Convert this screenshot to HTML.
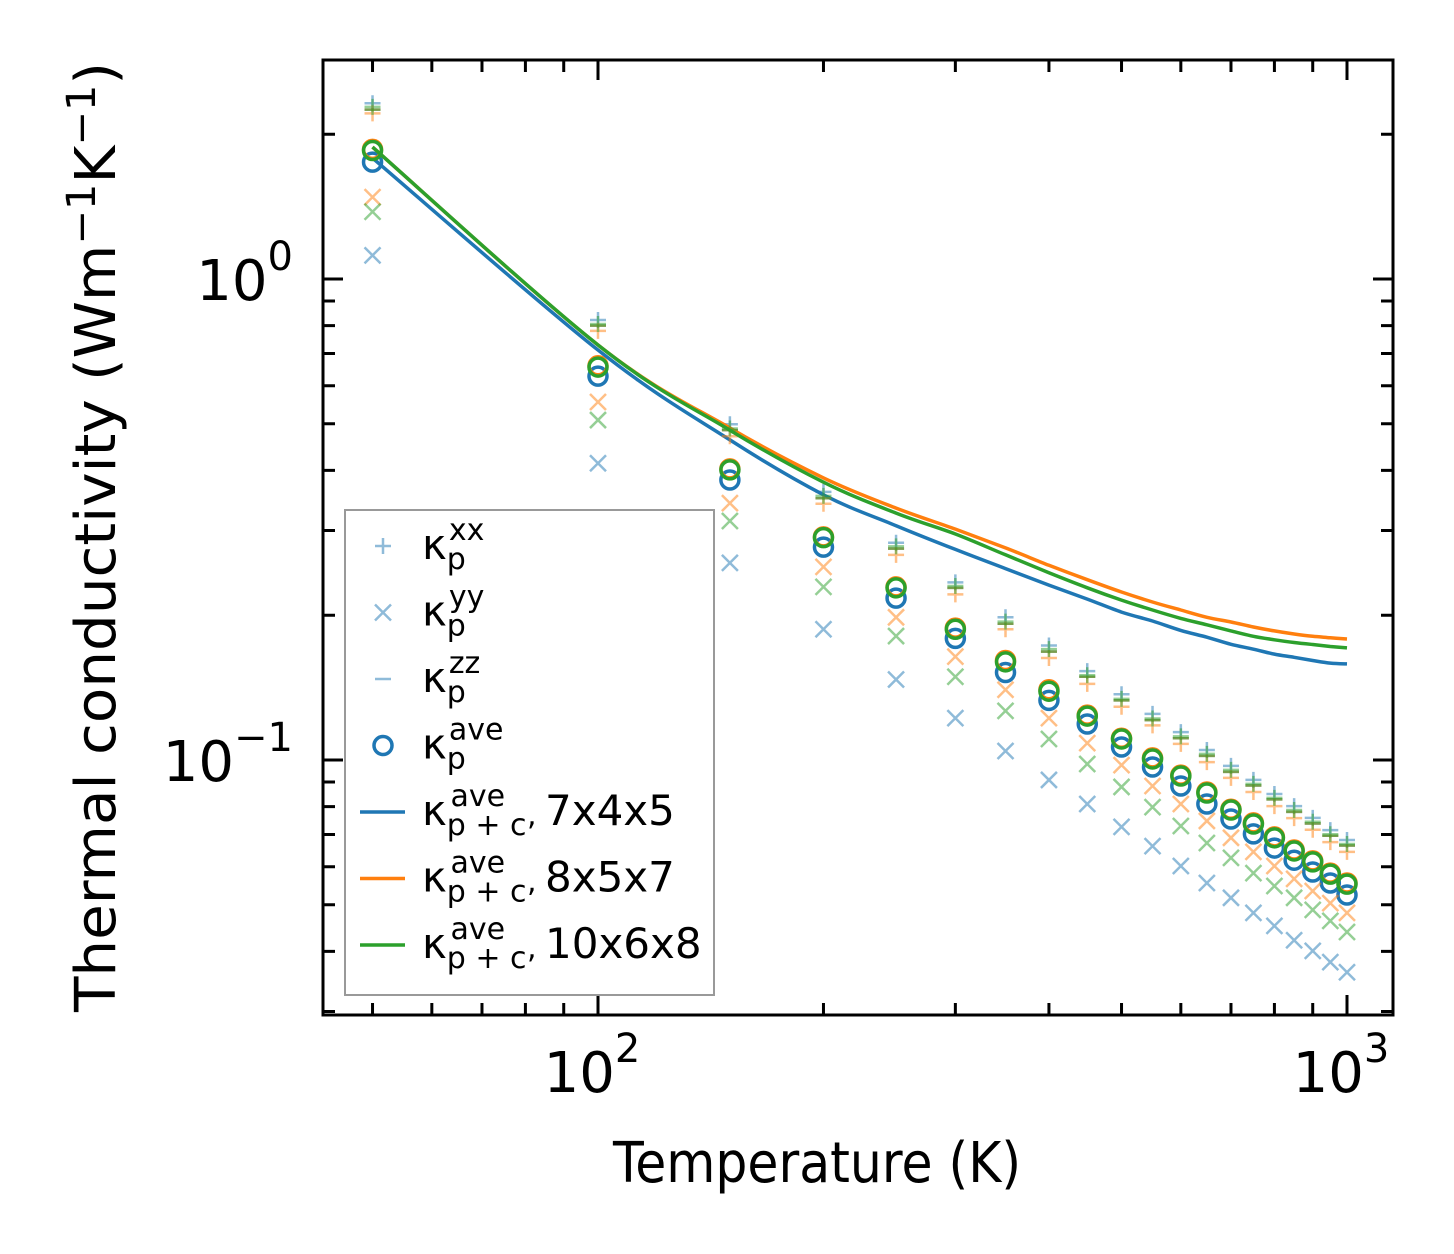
<!DOCTYPE html>
<html><head><meta charset="utf-8"><style>
html,body{margin:0;padding:0;background:#fff}
svg{display:block;font-family:"DejaVu Sans","Liberation Sans",sans-serif}
</style></head><body>
<svg id="chart" width="1454" height="1254" viewBox="0 0 1454 1254" xmlns="http://www.w3.org/2000/svg">
<rect width="1454" height="1254" fill="#fff"/>
<g id="marks"></g>
<g id="axes"></g>
<text x="817" y="1182" font-size="56" text-anchor="middle" textLength="408" lengthAdjust="spacingAndGlyphs">Temperature (K)</text>
<text transform="translate(115,537) rotate(-90)" font-size="56" text-anchor="middle" textLength="950" lengthAdjust="spacingAndGlyphs">Thermal conductivity (Wm<tspan dy="-20" font-size="40">−1</tspan><tspan dy="20">K</tspan><tspan dy="-20" font-size="40">−1</tspan><tspan dy="20">)</tspan></text>
<g id="legend"></g>
</svg>
<script>
const temps=[50,100,150,200,250,300,350,400,450,500,550,600,650,700,750,800,850,900,950,1000];
const xxBlue=[2.32,0.822,0.499,0.361,0.283,0.234,0.198,0.173,0.153,0.137,0.1247,0.1143,0.1049,0.0972,0.0909,0.085,0.0802,0.0758,0.0715,0.0682];
const xxOrange=[2.21,0.78,0.471,0.341,0.267,0.221,0.187,0.163,0.144,0.129,0.118,0.108,0.099,0.0918,0.0858,0.0802,0.0757,0.0716,0.0675,0.0644];
const xxGreen=[2.28,0.806,0.489,0.354,0.278,0.23,0.194,0.17,0.15,0.134,0.122,0.112,0.103,0.0954,0.0892,0.0834,0.0787,0.0744,0.0701,0.0669];
const zzValues=[2.25,0.8,0.485,0.35,0.275,0.228,0.192,0.168,0.149,0.133,0.121,0.111,0.102,0.0945,0.0885,0.0828,0.078,0.0738,0.0696,0.0664];
const yyBlue=[1.12,0.414,0.257,0.187,0.147,0.1222,0.1044,0.0909,0.081,0.0726,0.0662,0.0602,0.0555,0.0517,0.0481,0.0452,0.0422,0.0401,0.038,0.0362];
const yyOrange=[1.48,0.555,0.342,0.252,0.198,0.164,0.14,0.1222,0.1084,0.0976,0.0883,0.081,0.0747,0.0689,0.0644,0.0602,0.0566,0.0534,0.0504,0.0481];
const yyGreen=[1.38,0.509,0.314,0.229,0.181,0.149,0.1265,0.1106,0.0981,0.0879,0.0798,0.0729,0.0672,0.0626,0.0582,0.0547,0.0517,0.0488,0.0463,0.0439];
const aveBlue=[1.75,0.628,0.382,0.277,0.217,0.179,0.152,0.133,0.1188,0.1064,0.0967,0.0883,0.081,0.0754,0.0702,0.0656,0.0619,0.0585,0.0555,0.0524];
const aveOrange=[1.86,0.66,0.403,0.291,0.229,0.188,0.161,0.14,0.124,0.111,0.101,0.093,0.0858,0.079,0.074,0.0692,0.065,0.0617,0.0582,0.0555];
const aveGreen=[1.85,0.656,0.401,0.29,0.228,0.187,0.16,0.139,0.1234,0.1106,0.1005,0.0926,0.0854,0.0787,0.0736,0.0689,0.0647,0.0614,0.0579,0.0552];
const lineBlue=[1.785,0.712,0.463,0.356,0.307,0.274,0.25,0.231,0.216,0.203,0.1945,0.186,0.18,0.174,0.17,0.166,0.1635,0.161,0.159,0.1584];
const lineOrange=[1.88,0.729,0.49,0.386,0.334,0.302,0.276,0.254,0.237,0.2235,0.213,0.205,0.198,0.1936,0.189,0.1855,0.1828,0.1808,0.1795,0.1785];
const lineGreen=[1.88,0.729,0.485,0.378,0.326,0.295,0.267,0.245,0.228,0.215,0.205,0.197,0.191,0.1855,0.1808,0.1778,0.1755,0.1738,0.1722,0.171];
const xMajor=[100,1000];
const xMajorLabels=["2","3"];
const yMajor=[0.1,1];
const yMajorLabels=["−1","0"];

const NS="http://www.w3.org/2000/svg";
const X0=323,X1=1393,Y0=60,Y1=1015;
function xs(t){return 598+749*Math.log10(t/100);}
function ys(v){return 279-481*Math.log10(v);}
function mk(tag,attrs,parent){const e=document.createElementNS(NS,tag);for(const k in attrs)e.setAttribute(k,attrs[k]);parent.appendChild(e);return e;}
const marks=document.getElementById('marks');
const axes=document.getElementById('axes');
const C={blue:'#1f77b4',orange:'#ff7f0e',green:'#2ca02c'};

function plus(cx,cy,col,g){return mk('path',{d:`M${cx-8},${cy}H${cx+8}M${cx},${cy-8}V${cy+8}`,stroke:col,'stroke-width':2.5,'stroke-opacity':0.5,fill:'none'},g);}
function cross(cx,cy,col,g){return mk('path',{d:`M${cx-8},${cy-8}L${cx+8},${cy+8}M${cx-8},${cy+8}L${cx+8},${cy-8}`,stroke:col,'stroke-width':2.5,'stroke-opacity':0.5,fill:'none'},g);}
function dash(cx,cy,col,g){return mk('path',{d:`M${cx-8},${cy}H${cx+8}`,stroke:col,'stroke-width':2.5,'stroke-opacity':0.5,fill:'none'},g);}
function circ(cx,cy,col,g){return mk('circle',{cx:cx,cy:cy,r:9,stroke:col,'stroke-width':3.5,fill:'none'},g);}
function smoothPath(P){let d=`M${P[0][0].toFixed(1)},${P[0][1].toFixed(1)}`;
  for(let i=0;i<P.length-1;i++){const p0=P[Math.max(0,i-1)],p1=P[i],p2=P[i+1],p3=P[Math.min(P.length-1,i+2)];
    const c1=[p1[0]+(p2[0]-p0[0])/6,p1[1]+(p2[1]-p0[1])/6],c2=[p2[0]-(p3[0]-p1[0])/6,p2[1]-(p3[1]-p1[1])/6];
    d+=`C${c1[0].toFixed(1)},${c1[1].toFixed(1)} ${c2[0].toFixed(1)},${c2[1].toFixed(1)} ${p2[0].toFixed(1)},${p2[1].toFixed(1)}`;}
  return d;}

const sets=[
 {name:'blue',col:C.blue,xx:xxBlue,yy:yyBlue,zz:zzValues,ave:aveBlue,line:lineBlue},
 {name:'orange',col:C.orange,xx:xxOrange,yy:yyOrange,zz:zzValues,ave:aveOrange,line:lineOrange},
 {name:'green',col:C.green,xx:xxGreen,yy:yyGreen,zz:zzValues,ave:aveGreen,line:lineGreen}
];
sets.forEach(s=>{
  const g=mk('g',{},marks);
  
  
  temps.forEach((t,i)=>{
    const e1=plus(xs(t),ys(s.xx[i]),s.col,g);
    
    
    const e2=cross(xs(t),ys(s.yy[i]),s.col,g);
    
    
    const e3=dash(xs(t),ys(s.zz[i]),s.col,g);
    
    
    const e4=circ(xs(t),ys(s.ave[i]),s.col,g);
    
    
  });
  const P=temps.map((t,i)=>[xs(t),ys(s.line[i])]);
  const pl=mk('path',{d:smoothPath(P),fill:'none',stroke:s.col,'stroke-width':3.5,'stroke-linejoin':'round'},g);
  
  
});

const fr=mk('rect',{x:X0,y:Y0,width:X1-X0,height:Y1-Y0,fill:'none',stroke:'#000','stroke-width':3},axes);


for(let d=10;d<=1000;d*=10){for(let m=1;m<10;m++){const t=d*m;const x=xs(t);if(x<X0||x>X1)continue;const major=(m===1);const L=major?20:12;
  const tk=mk('path',{d:`M${x},${Y1}v${-L}M${x},${Y0}v${L}`,stroke:'#000','stroke-width':3},axes);
  
  }}
for(let d=0.01;d<=10;d*=10){for(let m=1;m<10;m++){const v=d*m;const y=ys(v);if(y<Y0||y>Y1)continue;const major=(m===1);const L=major?20:12;
  const tk=mk('path',{d:`M${X0},${y}h${L}M${X1},${y}h${-L}`,stroke:'#000','stroke-width':3},axes);
  
  }}
xMajor.forEach((t,i)=>{const tx=mk('text',{x:xs(t)-6,y:1092,'font-size':56,'text-anchor':'middle'},axes);
  
  
  tx.innerHTML='10<tspan dy="-30" font-size="40">'+xMajorLabels[i]+'</tspan>';});
yMajor.forEach((v,i)=>{const tx=mk('text',{x:293,y:ys(v)+21,'font-size':56,'text-anchor':'end'},axes);
  
  
  tx.innerHTML='10<tspan dy="-30" font-size="40">'+yMajorLabels[i]+'</tspan>';});

const lg=document.getElementById('legend');
const lb=mk('rect',{x:345,y:510,width:369,height:485,fill:'#fff','fill-opacity':0.8,stroke:'#999','stroke-width':2},lg);


const entries=[['xx','','plus'],['yy','','cross'],['zz','','dash'],['ave','','circ'],['ave',', 7x4x5','line',C.blue],['ave',', 8x5x7','line',C.orange],['ave',', 10x6x8','line',C.green]];
entries.forEach((e,i)=>{
  const cy=546+i*66.5;
  const g=mk('g',{},lg);
  
  
  if(e[2]==='plus')plus(383,cy,C.blue,g);
  else if(e[2]==='cross')cross(383,cy,C.blue,g);
  else if(e[2]==='dash')dash(383,cy,C.blue,g);
  else if(e[2]==='circ')circ(383,cy,C.blue,g);
  else mk('line',{x1:360,x2:405,y1:cy,y2:cy,stroke:e[3],'stroke-width':3.5},g);
  const sub=(i>=4)?'p + c':'p';
  const tx=mk('text',{x:422,y:cy+13,'font-size':42},g);
  tx.innerHTML='κ<tspan dy="10" font-size="30">'+sub+'</tspan>'+'<tspan dx="'+(i>=4?-76:-17)+'" dy="-29" font-size="30">'+e[0]+'</tspan>'+(e[1]?'<tspan x="527" dy="19" font-size="30">,</tspan><tspan x="545" dy="0" font-size="42">'+e[1].slice(2)+'</tspan>':'');
});
</script>
</body></html>
